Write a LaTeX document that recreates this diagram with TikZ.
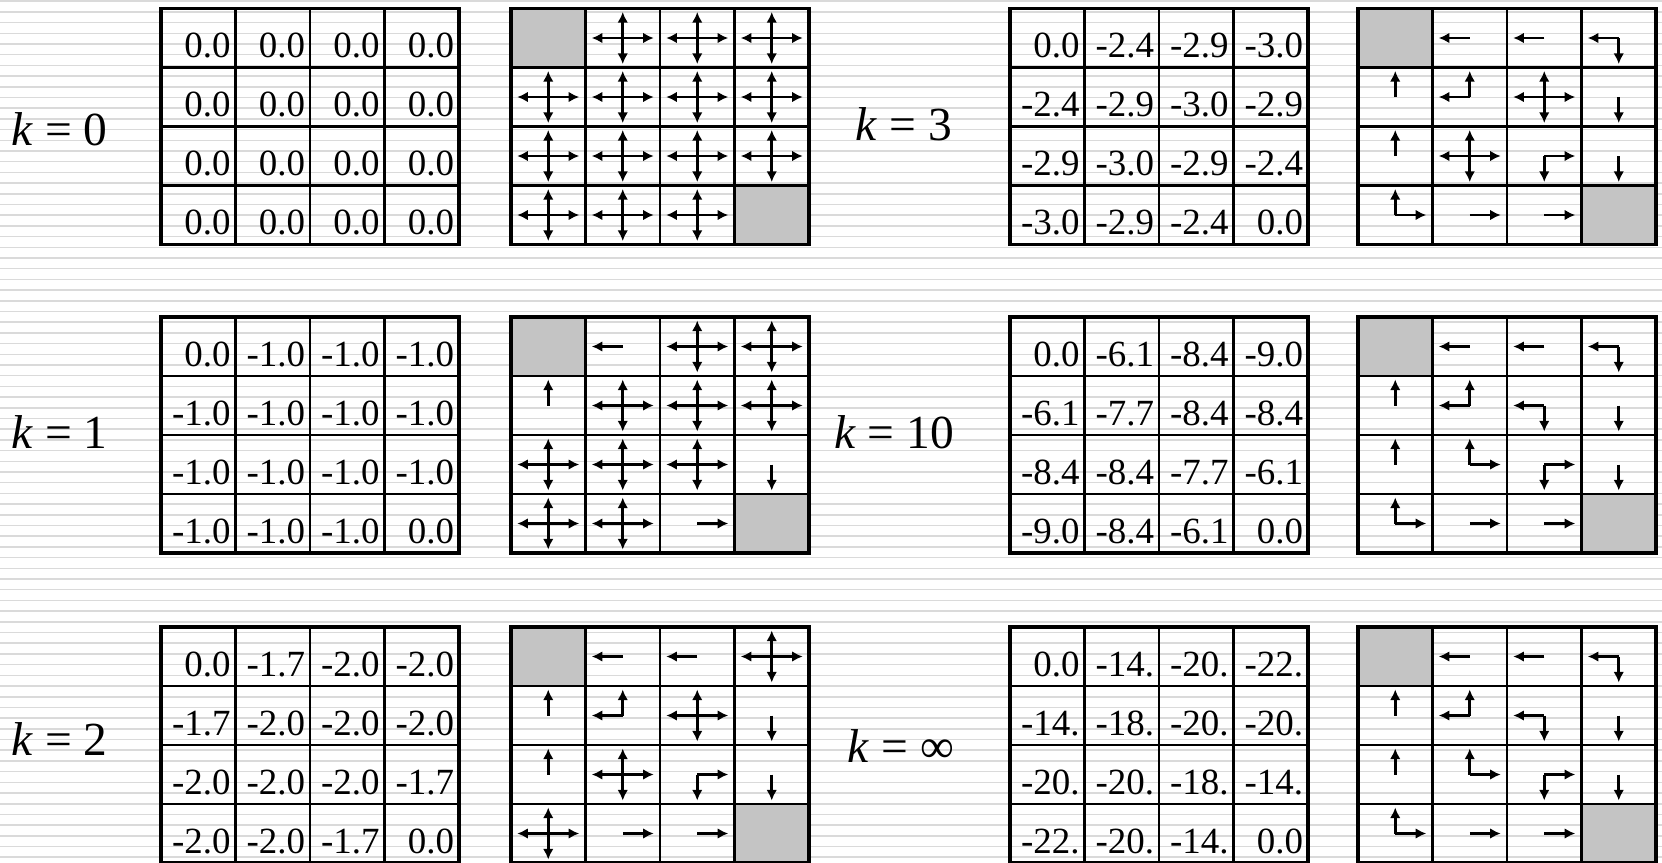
\documentclass[tikz,border=0pt]{standalone}
\usepackage{fontspec}
\setmainfont{Liberation Serif}
\usetikzlibrary{arrows.meta}
\definecolor{termgray}{HTML}{C4C4C4}
\definecolor{stripegray}{HTML}{DADADA}

\newcommand{\valgrid}[4]{%
  \foreach \v [count=\i from 0] in {#4} {
    \pgfmathtruncatemacro{\gr}{\i/4}
    \pgfmathtruncatemacro{\gc}{mod(\i,4)}
    \node[vcell] (#1-\i) at ({#2+74.5*\gc+37.25},{#3+59*\gr+29.5}) {\v};
  }
  \draw[frame] (#1-0.north west) rectangle (#1-15.south east);
}
\newcommand{\polgrid}[4]{%
  \foreach \dirs [count=\i from 0] in {#4} {
    \pgfmathtruncatemacro{\gr}{\i/4}
    \pgfmathtruncatemacro{\gc}{mod(\i,4)}
    \node[cell] (#1-\i) at ({#2+74.5*\gc+37.25},{#3+59*\gr+29.5}) {};
    \ifnum\i=0 \else\ifnum\i=15 \else
      \foreach \a in \dirs {\draw[pol] (#1-\i.center) -- ++({31*cos(\a)},{-26*sin(\a)});}
    \fi\fi
  }
  \node[term] (#1-ta) at (#1-0) {};
  \node[term] (#1-tb) at (#1-15) {};
  \draw[frame] (#1-0.north west) rectangle (#1-15.south east);
}

\begin{document}
\begin{tikzpicture}[x=0.01cm, y=-0.01cm,
  cell/.style={rectangle, draw, line width=0.7pt, minimum width=0.745cm, minimum height=0.59cm, inner sep=0pt, outer sep=0pt},
  vcell/.style={cell, text width=0.645cm, align=right, text height=0.45cm, text depth=0.06cm, font=\fontsize{10.5}{12}\selectfont},
  term/.style={cell, fill=termgray},
  frame/.style={line width=1pt},
  pol/.style={-{Latex[length=3pt, width=3pt]}, line width=0.8pt},
  stripe/.style={stripegray, line width=0.45pt},
  klabel/.style={font=\fontsize{13.5}{16}\selectfont, inner sep=0pt}]

\useasboundingbox (0,0) rectangle (1662,863);
\foreach \n in {0,...,80}
  \draw[stripe] (0,{1.2+10.7*\n}) -- (1662,{1.2+10.7*\n});

\node[klabel, anchor=west] (k0) at (11,129) {\textit{k} = 0};
\node[klabel, anchor=west] (k1) at (11,432) {\textit{k} = 1};
\node[klabel, anchor=west] (k2) at (11,739) {\textit{k} = 2};
\node[klabel] (k3) at (904,124) {\textit{k} = 3};
\node[klabel] (k10) at (894,432) {\textit{k} = 10};
\node[klabel] (kinf) at (901,746) {\textit{k} = ∞};

\valgrid{v0}{161}{8.5}{0.0,0.0,0.0,0.0,0.0,0.0,0.0,0.0,0.0,0.0,0.0,0.0,0.0,0.0,0.0,0.0}
\polgrid{p0}{511}{8.5}{-,{0,90,180,270},{0,90,180,270},{0,90,180,270},
  {0,90,180,270},{0,90,180,270},{0,90,180,270},{0,90,180,270},
  {0,90,180,270},{0,90,180,270},{0,90,180,270},{0,90,180,270},
  {0,90,180,270},{0,90,180,270},{0,90,180,270},-}

\valgrid{v1}{161}{317}{0.0,-1.0,-1.0,-1.0,-1.0,-1.0,-1.0,-1.0,-1.0,-1.0,-1.0,-1.0,-1.0,-1.0,-1.0,0.0}
\polgrid{p1}{511}{317}{-,180,{0,90,180,270},{0,90,180,270},
  90,{0,90,180,270},{0,90,180,270},{0,90,180,270},
  {0,90,180,270},{0,90,180,270},{0,90,180,270},270,
  {0,90,180,270},{0,90,180,270},0,-}

\valgrid{v2}{161}{627}{0.0,-1.7,-2.0,-2.0,-1.7,-2.0,-2.0,-2.0,-2.0,-2.0,-2.0,-1.7,-2.0,-2.0,-1.7,0.0}
\polgrid{p2}{511}{627}{-,180,180,{0,90,180,270},
  90,{90,180},{0,90,180,270},270,
  90,{0,90,180,270},{0,270},270,
  {0,90,180,270},0,0,-}

\valgrid{v3}{1010}{8.5}{0.0,-2.4,-2.9,-3.0,-2.4,-2.9,-3.0,-2.9,-2.9,-3.0,-2.9,-2.4,-3.0,-2.9,-2.4,0.0}
\polgrid{p3}{1358}{8.5}{-,180,180,{180,270},
  90,{90,180},{0,90,180,270},270,
  90,{0,90,180,270},{0,270},270,
  {0,90},0,0,-}

\valgrid{v10}{1010}{317}{0.0,-6.1,-8.4,-9.0,-6.1,-7.7,-8.4,-8.4,-8.4,-8.4,-7.7,-6.1,-9.0,-8.4,-6.1,0.0}
\polgrid{p10}{1358}{317}{-,180,180,{180,270},
  90,{90,180},{180,270},270,
  90,{0,90},{0,270},270,
  {0,90},0,0,-}

\valgrid{vinf}{1010}{627}{0.0,-14.,-20.,-22.,-14.,-18.,-20.,-20.,-20.,-20.,-18.,-14.,-22.,-20.,-14.,0.0}
\polgrid{pinf}{1358}{627}{-,180,180,{180,270},
  90,{90,180},{180,270},270,
  90,{0,90},{0,270},270,
  {0,90},0,0,-}
\end{tikzpicture}
\end{document}
